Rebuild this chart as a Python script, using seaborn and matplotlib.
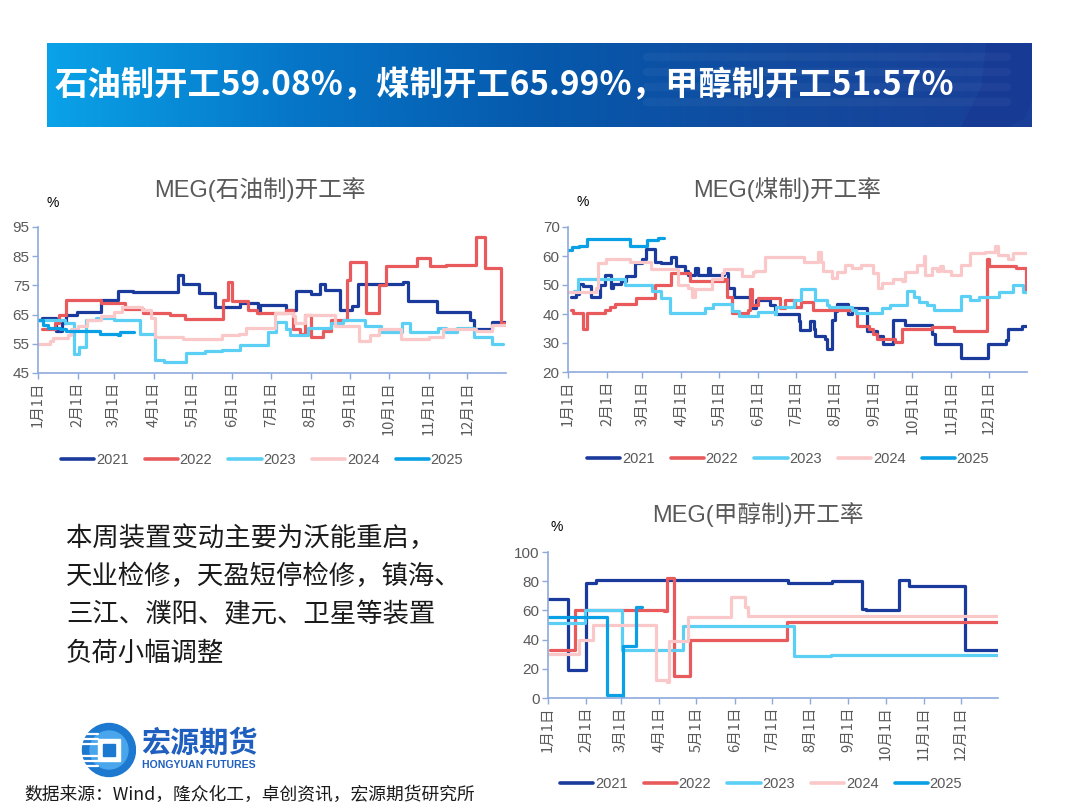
import numpy as np
import pandas as pd
import matplotlib
matplotlib.use("Agg")
import matplotlib.pyplot as plt
import seaborn as sns
from matplotlib.lines import Line2D
from matplotlib.patches import Circle, Rectangle, Polygon

# ---- data (day of year, rate %) ----
years = ["2021", "2022", "2023", "2024", "2025"]
year_colors = {"2021": "#1a3a9c", "2022": "#e95a5c", "2023": "#5ccff5",
               "2024": "#fac8c8", "2025": "#0aa0e6"}

month_days = [1, 32, 60, 91, 121, 152, 182, 213, 244, 274, 305, 335]
month_labels = [f"{m}月1日" for m in range(1, 13)]

# MEG(石油制)
oil_2021_day = [1, 4, 15, 20, 23, 31, 50, 63, 75, 110, 114, 126, 139, 158, 172, 174, 194, 202, 213, 220, 224, 236, 245, 250, 285, 289, 311, 337, 340, 354, 365]
oil_2021_val = [63, 64, 59.5, 62, 65, 66, 70, 73.2, 72.8, 78.5, 75.5, 72.5, 67.7, 69, 65.5, 68.3, 66.5, 73, 72, 75.5, 73.5, 66.5, 68, 75.5, 76.3, 69.5, 66, 63, 60, 62.3, 62.3]
oil_2022_day = [4, 14, 17, 23, 50, 69, 83, 104, 115, 145, 149, 152, 164, 171, 194, 199, 205, 209, 213, 223, 229, 241, 244, 256, 266, 272, 296, 306, 318, 342, 349, 361, 365]
oil_2022_val = [60, 62, 65, 70, 69, 67, 65.5, 65, 63.5, 70, 76, 69.5, 66.5, 65.5, 66.5, 60, 58.5, 65, 57.5, 59.5, 63, 77, 83, 65.5, 75, 81.5, 84.5, 81.5, 82, 91.5, 81, 62, 62]
oil_2023_day = [1, 22, 29, 33, 38, 46, 60, 80, 92, 99, 116, 131, 144, 158, 180, 186, 194, 197, 211, 229, 238, 255, 268, 284, 290, 312, 318, 327, 340, 354, 363]
oil_2023_val = [63, 62, 51.5, 54, 63, 64, 63, 58.5, 49.5, 48.7, 52, 52.5, 53, 54.5, 59, 62.5, 60, 58, 60.5, 62, 63, 61, 59, 62, 59, 60.5, 59, 60.5, 57.5, 55, 55]
oil_2024_day = [1, 10, 13, 24, 27, 32, 39, 50, 60, 66, 82, 89, 92, 114, 144, 157, 163, 185, 199, 201, 209, 232, 251, 259, 266, 283, 305, 316, 342, 354, 365]
oil_2024_val = [55, 56, 57, 58, 60, 61, 63, 64.5, 66, 67.5, 66.5, 64, 57.5, 56.5, 58, 58.5, 60.5, 65.5, 64.5, 62, 65, 61, 56, 58, 60, 56.5, 57.5, 60, 59.5, 61.5, 61.5]
oil_2025_day = [1, 5, 9, 18, 23, 49, 63, 65, 76]
oil_2025_val = [63, 61.5, 60.5, 60, 59.5, 58.5, 58, 59, 59]

# MEG(煤制)
coal_2021_day = [3, 7, 10, 13, 19, 26, 30, 35, 37, 43, 47, 54, 60, 63, 70, 75, 83, 87, 94, 96, 102, 104, 112, 114, 125, 128, 133, 145, 150, 161, 165, 184, 185, 193, 196, 197, 205, 206, 210, 213, 214, 223, 226, 238, 246, 251, 259, 268, 290, 292, 313, 334, 348, 350, 361, 365]
coal_2021_val = [46, 47, 50.5, 49.5, 45.8, 50, 53.5, 49, 50.5, 51.5, 53, 57.5, 59, 62.5, 58, 57.5, 59.5, 56.5, 55, 53.5, 56, 53.5, 56, 53.5, 54, 49, 46, 42, 45, 43, 40, 37.5, 34.5, 37.5, 35, 32.5, 31.5, 28, 38, 41, 43.5, 40, 42, 34, 32.5, 29.5, 38, 36.3, 33, 29.5, 24.8, 29.8, 31, 35, 35.8, 35.8]
coal_2022_day = [3, 5, 13, 16, 30, 34, 38, 55, 70, 83, 98, 125, 127, 131, 144, 145, 147, 152, 169, 173, 181, 186, 195, 229, 230, 240, 243, 246, 260, 266, 290, 307, 333, 335, 356, 364, 365]
coal_2022_val = [41.5, 40.5, 35, 40.5, 41.5, 42.5, 43.3, 45.5, 50, 54, 51.5, 52, 46, 40.5, 41.5, 48.5, 43, 45.5, 42, 45, 42.5, 44, 41.5, 40.5, 36, 35, 33, 31.5, 30.5, 35, 35.5, 34, 59, 56.5, 56, 47.5, 47.5]
coal_2023_day = [6, 9, 46, 68, 75, 82, 110, 116, 131, 137, 152, 165, 166, 180, 186, 197, 206, 208, 226, 229, 250, 256, 270, 275, 279, 286, 291, 313, 320, 327, 343, 354, 362, 365]
coal_2023_val = [48, 52, 50, 48, 45.5, 40.5, 42, 43.5, 41, 39.2, 40.8, 40, 42.5, 45, 48.5, 44.8, 43, 42.5, 41.5, 40.5, 42, 43, 48, 46, 44, 43, 41.5, 46.3, 45, 46, 47.5, 50, 47.5, 47.5]
coal_2024_day = [1, 23, 25, 31, 50, 67, 88, 96, 99, 102, 115, 123, 125, 139, 148, 149, 157, 188, 190, 199, 202, 203, 210, 214, 221, 226, 233, 243, 247, 250, 259, 266, 268, 278, 283, 284, 290, 294, 296, 298, 305, 313, 320, 332, 340, 342, 350, 354, 365]
coal_2024_val = [47.5, 49, 57.5, 59, 58, 55.5, 50, 49, 46, 48.5, 52, 54, 55.5, 53, 54.5, 55, 59.5, 58, 57.8, 61.5, 57.8, 55, 52.5, 54.5, 57, 56, 57, 54, 49, 50.8, 52, 51.5, 54.5, 57, 60, 53.5, 56, 55, 56.5, 55, 53.5, 57, 61, 61.5, 63.5, 60.5, 59, 61, 61]
coal_2025_day = [1, 4, 10, 16, 50, 64, 72, 77]
coal_2025_val = [62, 63, 63.5, 66, 63.5, 65.5, 66.3, 66.3]

# MEG(甲醇制)
meoh_2021_day = [1, 15, 17, 31, 32, 40, 195, 231, 253, 255, 258, 284, 285, 293, 335, 338, 365]
meoh_2021_val = [68, 68, 19, 19, 79, 81, 78.5, 80, 80, 61, 60, 60, 81, 76.5, 76.5, 33, 33]
meoh_2022_day = [3, 23, 95, 97, 103, 116, 194, 365]
meoh_2022_val = [33, 60.5, 59.5, 82, 15, 40, 52, 52]
meoh_2023_day = [1, 31, 61, 110, 200, 230, 364]
meoh_2023_val = [51.5, 60.5, 33, 49.5, 29, 29.5, 29.5]
meoh_2024_day = [1, 26, 37, 88, 97, 99, 114, 149, 160, 163, 365]
meoh_2024_val = [30, 39.5, 50, 12, 11, 39, 55.5, 69, 62, 56, 56]
meoh_2025_day = [1, 49, 61, 62, 72, 77]
meoh_2025_val = [55.5, 2, 0.5, 35.5, 62.5, 62.5]


def make_frame(pairs):
    rows = []
    for yr, (d, v) in zip(years, pairs):
        rows.append(pd.DataFrame({"day": d, "rate": v, "year": yr}))
    return pd.concat(rows, ignore_index=True)


oil_df = make_frame([(oil_2021_day, oil_2021_val), (oil_2022_day, oil_2022_val),
                     (oil_2023_day, oil_2023_val), (oil_2024_day, oil_2024_val),
                     (oil_2025_day, oil_2025_val)])
coal_df = make_frame([(coal_2021_day, coal_2021_val), (coal_2022_day, coal_2022_val),
                      (coal_2023_day, coal_2023_val), (coal_2024_day, coal_2024_val),
                      (coal_2025_day, coal_2025_val)])
meoh_df = make_frame([(meoh_2021_day, meoh_2021_val), (meoh_2022_day, meoh_2022_val),
                      (meoh_2023_day, meoh_2023_val), (meoh_2024_day, meoh_2024_val),
                      (meoh_2025_day, meoh_2025_val)])

# ---- style ----
sns.set_theme(style="white")
plt.rcParams["font.family"] = ["Liberation Sans", "Noto Sans CJK SC", "DejaVu Sans"]
CJK = ["Noto Sans CJK SC", "DejaVu Sans"]
spine_c = "#8eaadc"
text_c = "#595959"

W, H = 1080, 810
fig = plt.figure(figsize=(10.8, 8.1), dpi=100)
fig.patch.set_facecolor("white")


def fx(px):
    return px / W


def fy(py):
    return 1 - py / H


# ---- banner ----
ban = fig.add_axes([fx(47), fy(127), fx(1032 - 47), (127 - 43) / H])
grad = np.linspace(0, 1, 512).reshape(1, -1)
cmap = matplotlib.colors.LinearSegmentedColormap.from_list(
    "ban", ["#0aa2e8", "#0676c8", "#0659ac", "#124a9f", "#1a3f98"])
ban.imshow(grad, aspect="auto", cmap=cmap, extent=[0, 985, 0, 84])
ban.add_patch(Polygon([[940, 84], [985, 84], [985, 30], [978, 10], [960, 0], [915, 0], [935, 40]],
                      closed=True, color="#173a94", zorder=2))
for yy in [70, 55, 40, 25]:
    ban.plot([600, 960], [yy, yy], color="white", alpha=0.04, lw=6)
ban.set_xlim(0, 985)
ban.set_ylim(0, 84)
ban.axis("off")
fig.text(fx(55), fy(86), "石油制开工59.08%，煤制开工65.99%，甲醇制开工51.57%",
         color="white", fontsize=24, fontweight="bold", family=CJK, va="center", ha="left")


# ---- panels ----
def draw_panel(box, frame, ylim, yticks, title, title_xy, pct_xy, legend_xy):
    left, top, right, bottom = box
    ax = fig.add_axes([fx(left), fy(bottom), fx(right - left), (bottom - top) / H])
    sns.lineplot(data=frame, x="day", y="rate", hue="year", hue_order=years,
                 palette=year_colors, estimator=None, sort=False,
                 drawstyle="steps-post", linewidth=2.3, legend=False, ax=ax)
    ax.set_xlim(1, 365)
    ax.set_ylim(*ylim)
    ax.set_yticks(yticks)
    ax.set_xticks(month_days)
    ax.set_xticklabels(month_labels, rotation=90, fontsize=10.5, color=text_c, family=CJK)
    ax.tick_params(axis="y", labelsize=11, labelcolor=text_c)
    ax.tick_params(bottom=True, left=True, direction="out", length=4, width=1,
                   color=spine_c, pad=2)
    ax.set_xlabel("")
    ax.set_ylabel("")
    for s in ["top", "right"]:
        ax.spines[s].set_visible(False)
    for s in ["left", "bottom"]:
        ax.spines[s].set_color(spine_c)
        ax.spines[s].set_linewidth(1.2)
    ax.patch.set_alpha(0)
    fig.text(fx(title_xy[0]), fy(title_xy[1]), title, fontsize=17, color=text_c,
             ha="center", va="center")
    fig.text(fx(pct_xy[0]), fy(pct_xy[1]), "%", fontsize=10, color="black",
             ha="center", va="center")
    handles = [Line2D([0], [0], color=year_colors[y], lw=2.6) for y in years]
    ax.legend(handles, years, loc="center", ncol=5, frameon=False,
              bbox_to_anchor=(fx(legend_xy[0]), fy(legend_xy[1])),
              bbox_transform=fig.transFigure, fontsize=10.5, labelcolor=text_c,
              handlelength=2.3, handletextpad=0.1, columnspacing=1.1)
    return ax


draw_panel((38, 227, 506, 373), oil_df, (45, 95), [45, 55, 65, 75, 85, 95],
           "MEG(石油制)开工率", (260, 190), (53, 203), (262, 460))
draw_panel((568, 227, 1027, 372), coal_df, (20, 70), [20, 30, 40, 50, 60, 70],
           "MEG(煤制)开工率", (787, 190), (583, 202), (788, 459))
draw_panel((548, 552, 998, 698), meoh_df, (0, 100), [0, 20, 40, 60, 80, 100],
           "MEG(甲醇制)开工率", (758, 515), (557, 527), (761, 784))

# ---- commentary ----
notes = ["本周装置变动主要为沃能重启，",
         "天业检修，天盈短停检修，镇海、",
         "三江、濮阳、建元、卫星等装置",
         "负荷小幅调整"]
for i, line in enumerate(notes):
    fig.text(fx(66), fy(538 + i * 38.5), line, fontsize=19, color="#1a1a1a",
             family=CJK, ha="left", va="center")

# ---- logo ----
lg = fig.add_axes([fx(78), fy(778), fx(58), 56 / H])
lg.set_xlim(0, 58)
lg.set_ylim(0, 56)
lg.set_aspect("equal")
lg.axis("off")
lg.add_patch(Circle((31, 28), 26.5, color="#1d78d0"))
lg.add_patch(Circle((31, 28), 19, color="#49a6ec"))
lg.add_patch(Rectangle((20, 17), 22, 22, color="white"))
lg.add_patch(Rectangle((25, 22), 12, 12, color="#1d78d0"))
for yy in [12, 17, 22, 34, 39, 44]:
    lg.plot([2, 20], [yy, yy], color="white", lw=1.6)
fig.text(fx(141), fy(743), "宏源期货", fontsize=21, fontweight="bold", color="#1f5fbf",
         family=CJK, ha="left", va="center")
fig.text(fx(142), fy(765), "HONGYUAN FUTURES", fontsize=7.6, fontweight="bold",
         color="#1f5fbf", ha="left", va="center")

fig.text(fx(24), fy(795), "数据来源：Wind，隆众化工，卓创资讯，宏源期货研究所",
         fontsize=12.8, color="#1a1a1a", family=CJK, ha="left", va="center")

fig.savefig("out.png", dpi=100, facecolor="white")
